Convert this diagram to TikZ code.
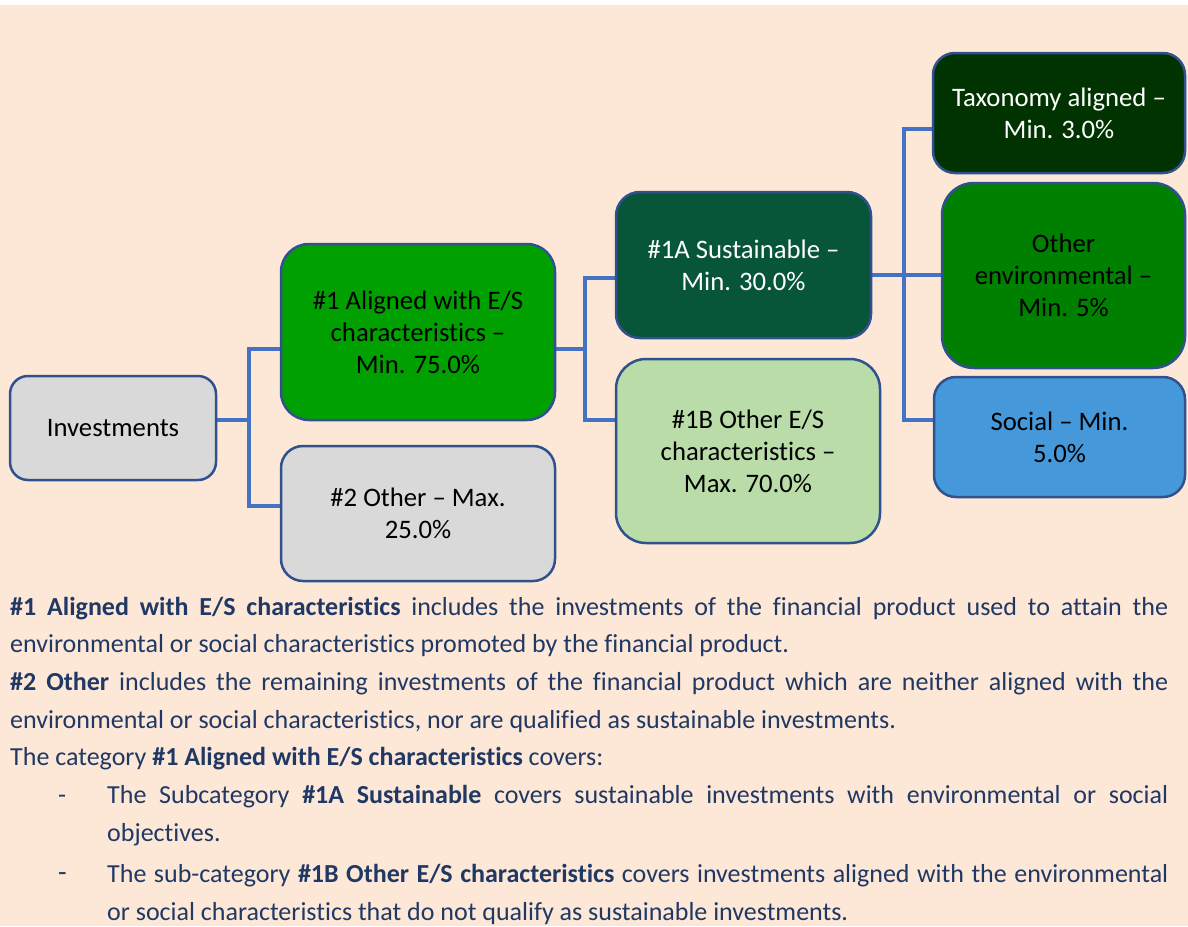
\documentclass[tikz,border=0pt]{standalone}
\usepackage{fontspec}
\setmainfont{Carlito}[Ligatures={TeX,NoCommon}]
\usetikzlibrary{backgrounds}
\definecolor{peach}{HTML}{FDE7D7}
\definecolor{boxline}{HTML}{2F528F}
\definecolor{connblue}{HTML}{4472C4}
\definecolor{greyfill}{HTML}{D9D9D9}
\definecolor{greenA}{HTML}{00A000}
\definecolor{green1A}{HTML}{07563A}
\definecolor{green1B}{HTML}{BADCA9}
\definecolor{taxgreen}{HTML}{003300}
\definecolor{envgreen}{HTML}{008000}
\definecolor{socblue}{HTML}{4599DA}
\definecolor{navy}{HTML}{1F3864}
\tikzset{
  box/.style={draw=boxline, line width=2.5pt, align=center, inner sep=0pt,
    font=\fontsize{26.7}{32}\selectfont},
  conn/.style={draw=connblue, line width=4.5pt},
  body/.style={anchor=base west, inner sep=0pt, text=navy,
    font=\fontsize{26}{30}\selectfont},
}
\begin{document}
\begin{tikzpicture}[x=1pt,y=-1pt]
\useasboundingbox (0,0) rectangle (1188,926);
% nodes
\node[box, fill=greyfill, minimum width=206pt, minimum height=104pt, rounded corners=18pt] (inv) at (113,428) {Investments};
\node[box, fill=greenA, minimum width=274pt, minimum height=176pt, rounded corners=28pt] (a1) at (418,332) {\#1 Aligned with E/S\\characteristics --\\Min. 75.0\%};
\node[box, fill=greyfill, minimum width=274pt, minimum height=135pt, rounded corners=22pt] (a2) at (418,513.5) {\#2 Other -- Max.\\25.0\%};
\node[box, fill=green1A, text=white, minimum width=255pt, minimum height=146pt, rounded corners=24pt] (s1A) at (743.5,265) {\#1A Sustainable --\\Min. 30.0\%};
\node[box, fill=green1B, minimum width=264pt, minimum height=184pt, rounded corners=30pt] (s1B) at (748,451) {\#1B Other E/S\\characteristics --\\Max. 70.0\%};
\node[box, fill=taxgreen, text=white, minimum width=252pt, minimum height=120pt, rounded corners=22pt] (tax) at (1059,113) {Taxonomy aligned --\\Min. 3.0\%};
\node[box, fill=envgreen, minimum width=243pt, minimum height=185pt, rounded corners=32pt] (oenv) at (1063.5,275.5) {Other\\environmental --\\Min. 5\%};
\node[box, fill=socblue, minimum width=251pt, minimum height=120pt, rounded corners=22pt] (soc) at (1059.5,437) {Social -- Min.\\5.0\%};
% junction coordinates
\coordinate (j1) at (249,420);
\coordinate (c1) at (249,349);
\coordinate (c2) at (249,506);
\coordinate (j2) at (585,349);
\coordinate (d1) at (585,278);
\coordinate (d2) at (585,420);
\coordinate (j3) at (904,275);
\coordinate (e1) at (904,129);
\coordinate (e2) at (904,420);
\begin{scope}[on background layer]
  \fill[white] (0,0) rectangle (1188,926);
  \fill[peach] (0,5) rectangle (1188,926);
  \draw[conn] (inv.east |- j1) -- (j1);
  \draw[conn] (a1.west |- c1) -- (c1) -- (c2) -- (a2.west |- c2);
  \draw[conn] (a1.east |- j2) -- (j2);
  \draw[conn] (s1A.west |- d1) -- (d1) -- (d2) -- (s1B.west |- d2);
  \draw[conn] (s1A.east |- j3) -- (oenv.west |- j3);
  \draw[conn] (tax.west |- e1) -- (e1) -- (e2) -- (soc.west |- e2);
\end{scope}
% body text
\node[body] (t1) at (10,615) {\makebox[1158pt][s]{\textbf{\#1 Aligned with E/S characteristics} includes the investments of the financial product used to attain the}};
\node[body] (t2) at (10,652) {environmental or social characteristics promoted by the financial product.};
\node[body] (t3) at (10,690) {\makebox[1158pt][s]{\textbf{\#2 Other} includes the remaining investments of the financial product which are neither aligned with the}};
\node[body] (t4) at (10,728) {environmental or social characteristics, nor are qualified as sustainable investments.};
\node[body] (t5) at (10,765) {The category \textbf{\#1 Aligned with E/S characteristics} covers:};
\node[body] (b1) at (58,803) {-};
\node[body] (t6) at (107,803) {\makebox[1061pt][s]{The Subcategory \textbf{\#1A Sustainable} covers sustainable investments with environmental or social}};
\node[body] (t7) at (107,841) {objectives.};
\node[body, font=\fontsize{28}{30}\selectfont] (b2) at (58,881) {-};
\node[body] (t8) at (107,882) {\makebox[1061pt][s]{The sub-category \textbf{\#1B Other E/S characteristics} covers investments aligned with the environmental}};
\node[body] (t9) at (107,920) {or social characteristics that do not qualify as sustainable investments.};
\end{tikzpicture}
\end{document}
